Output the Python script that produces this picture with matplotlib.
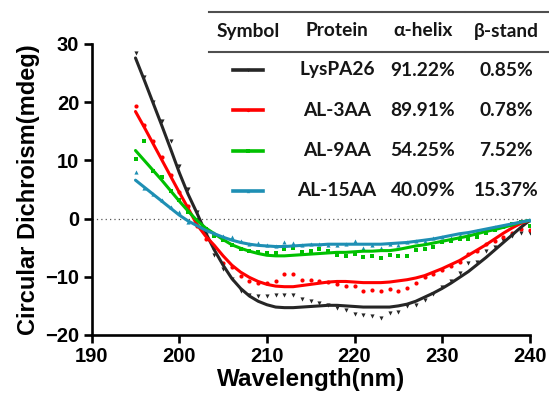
import numpy as np
import matplotlib
matplotlib.use("Agg")
import matplotlib.pyplot as plt
from matplotlib.lines import Line2D

wavelength = list(range(195, 241))

lys_pts = [28.4, 24.3, 20.1, 16.7, 13.3, 9.0, 5.0, 1.2, -2.8, -6.2,
           -8.6, -10.3, -12.5, -13.1, -13.3, -13.3, -13.2, -13.1, -13.2, -13.9,
           -14.2, -14.5, -14.9, -15.3, -15.7, -16.4, -16.6, -16.7, -17.0, -16.3,
           -16.0, -15.1, -14.8, -14.0, -13.0, -11.7, -10.8, -9.4, -7.7, -7.5,
           -5.5, -4.9, -3.6, -3.0, -2.4, -2.4]
lys_fit = [27.6, 23.8, 19.9, 16.0, 12.0, 7.9, 4.2, 1.0, -2.4, -5.4,
           -8.0, -10.3, -12.0, -13.3, -14.2, -14.8, -15.2, -15.3, -15.3, -15.2,
           -15.1, -15.0, -14.9, -14.9, -15.0, -15.1, -15.2, -15.2, -15.2, -15.2,
           -15.0, -14.7, -14.2, -13.5, -12.8, -12.0, -11.1, -10.1, -9.1, -7.9,
           -6.7, -5.4, -4.1, -2.8, -1.5, -0.3]

al3_pts = [19.4, 16.0, 13.3, 10.5, 7.5, 4.5, 2.2, -1.3, -3.5, -5.0,
           -7.7, -8.4, -9.8, -10.7, -11.0, -11.1, -10.7, -9.6, -9.6, -10.5,
           -10.5, -10.8, -10.9, -11.3, -11.5, -11.5, -12.5, -12.3, -12.5, -12.1,
           -12.5, -12.0, -11.0, -10.0, -9.5, -8.8, -8.1, -7.4, -6.1, -5.6,
           -4.4, -3.9, -3.1, -2.4, -1.8, -1.9]
al3_fit = [18.4, 15.7, 12.9, 10.1, 7.3, 4.5, 1.8, -1.0, -3.0, -4.6,
           -6.4, -8.0, -9.2, -10.1, -10.8, -11.3, -11.6, -11.7, -11.7, -11.5,
           -11.3, -11.1, -10.9, -10.8, -10.8, -10.9, -11.0, -11.0, -11.0, -10.9,
           -10.7, -10.5, -10.2, -9.8, -9.2, -8.6, -7.9, -7.2, -6.3, -5.4,
           -4.5, -3.5, -2.5, -1.6, -0.8, -0.3]

al9_pts = [10.2, 13.4, 8.1, 7.1, 4.8, 3.2, 1.1, -0.3, -1.8, -3.0,
           -3.7, -4.6, -5.3, -5.5, -5.8, -5.9, -5.9, -5.3, -5.0, -5.8,
           -5.6, -5.3, -5.6, -6.2, -6.4, -6.0, -6.6, -6.5, -6.8, -6.2,
           -6.4, -6.4, -5.4, -5.2, -4.9, -4.0, -3.8, -3.5, -3.5, -3.2,
           -2.4, -2.0, -1.4, -1.0, -0.6, -1.2]
al9_fit = [11.7, 10.0, 8.3, 6.6, 4.8, 3.0, 1.3, -0.3, -1.6, -2.6,
           -3.6, -4.5, -5.1, -5.6, -6.0, -6.3, -6.4, -6.4, -6.3, -6.2,
           -6.1, -6.0, -5.9, -5.8, -5.8, -5.7, -5.6, -5.6, -5.5, -5.5,
           -5.3, -5.0, -4.7, -4.5, -4.2, -3.9, -3.6, -3.3, -3.0, -2.6,
           -2.2, -1.9, -1.5, -1.1, -0.6, -0.3]

al15_pts = [8.0, 5.2, 4.2, 3.2, 2.0, 1.1, -0.5, -1.0, -2.0, -2.5,
            -3.0, -3.1, -3.8, -4.3, -4.2, -4.6, -4.7, -4.1, -4.2, -4.5,
            -4.4, -4.3, -4.5, -4.6, -4.4, -3.8, -5.1, -4.6, -5.0, -4.4,
            -4.6, -4.0, -3.9, -3.8, -3.4, -3.2, -3.3, -2.8, -2.6, -2.2,
            -1.9, -1.5, -1.2, -1.0, -0.6, -0.3]
al15_fit = [6.6, 5.4, 4.2, 3.0, 1.8, 0.6, -0.4, -1.2, -2.0, -2.6,
            -3.2, -3.7, -4.1, -4.4, -4.6, -4.7, -4.8, -4.8, -4.7, -4.6,
            -4.5, -4.5, -4.4, -4.4, -4.4, -4.4, -4.4, -4.4, -4.4, -4.3,
            -4.2, -4.1, -3.9, -3.7, -3.5, -3.2, -2.9, -2.6, -2.4, -2.1,
            -1.8, -1.5, -1.2, -0.9, -0.6, -0.3]

proteins = ["LysPA26", "AL-3AA", "AL-9AA", "AL-15AA"]
alpha_helix = ["91.22%", "89.91%", "54.25%", "40.09%"]
beta_stand = ["0.85%", "0.78%", "7.52%", "15.37%"]
headers = ["Symbol", "Protein", "\u03b1-helix", "\u03b2-stand"]

colors = ["#262626", "#FF0000", "#00C000", "#1E8FB4"]
markers = ["v", "o", "s", "^"]
points = [lys_pts, al3_pts, al9_pts, al15_pts]
fits = [lys_fit, al3_fit, al9_fit, al15_fit]

W, H = 549, 403
fig = plt.figure(figsize=(W / 100, H / 100), dpi=100)
ax = fig.add_axes([91.7 / W, 1 - 335 / H, (529.7 - 91.7) / W, (335 - 44) / H])

ax.axhline(0, color="#555555", lw=0.9, ls=(0, (1, 2.5)), zorder=1)
for pts, fit, c, m in zip(points, fits, colors, markers):
    ax.plot(wavelength, pts, ls="none", marker=m, ms=3.0, color=c, mew=0, zorder=3)
    ax.plot(wavelength, fit, color=c, lw=2.2, solid_capstyle="round", zorder=4)

ax.set_xlim(190, 240)
ax.set_ylim(-20, 30)
ax.set_xticks(range(190, 241, 10))
ax.set_yticks(range(-20, 31, 10))
for s in ["top", "right"]:
    ax.spines[s].set_visible(False)
for s in ["left", "bottom"]:
    ax.spines[s].set_linewidth(1.9)
ax.tick_params(width=1.9, length=6, labelsize=14.5, pad=3)
for lab in ax.get_xticklabels() + ax.get_yticklabels():
    lab.set_fontfamily("Liberation Sans")
    lab.set_fontweight("bold")
ax.set_xlabel("Wavelength(nm)", fontsize=17.5, fontweight="bold",
              fontfamily="Liberation Sans", labelpad=1)
ax.set_ylabel("Circular Dichroism(mdeg)", fontsize=17, fontweight="bold",
              fontfamily="Liberation Sans", labelpad=4)

# table
def fx(px):
    return px / W

def fy(py):
    return 1 - py / H

seg_edges = [208, 290, 382, 465, 549]
for yline in [12, 52]:
    for a, b in zip(seg_edges[:-1], seg_edges[1:]):
        fig.add_artist(Line2D([fx(a + 0.6), fx(b - 0.6)], [fy(yline), fy(yline)],
                              color="#4f4f4f", lw=1.5))

col_x = [248, 337, 423, 506]
row_y = [70, 110, 151, 191]
tfont = dict(fontfamily="Lato", fontweight="bold", fontsize=13.8, color="#151515",
             ha="center", va="center")
for cx, h in zip(col_x, headers):
    fig.text(fx(cx), fy(31), h, **tfont)
for i, ry in enumerate(row_y):
    fig.add_artist(Line2D([fx(233), fx(263)], [fy(ry), fy(ry)], color=colors[i], lw=2.6))
    fig.add_artist(Line2D([fx(248)], [fy(ry)], color=colors[i], marker=markers[i],
                          ms=2.4, mew=0, ls="none"))
    fig.text(fx(col_x[1]), fy(ry), proteins[i], **tfont)
    fig.text(fx(col_x[2]), fy(ry), alpha_helix[i], **tfont)
    fig.text(fx(col_x[3]), fy(ry), beta_stand[i], **tfont)

fig.savefig("out.png", dpi=100)
